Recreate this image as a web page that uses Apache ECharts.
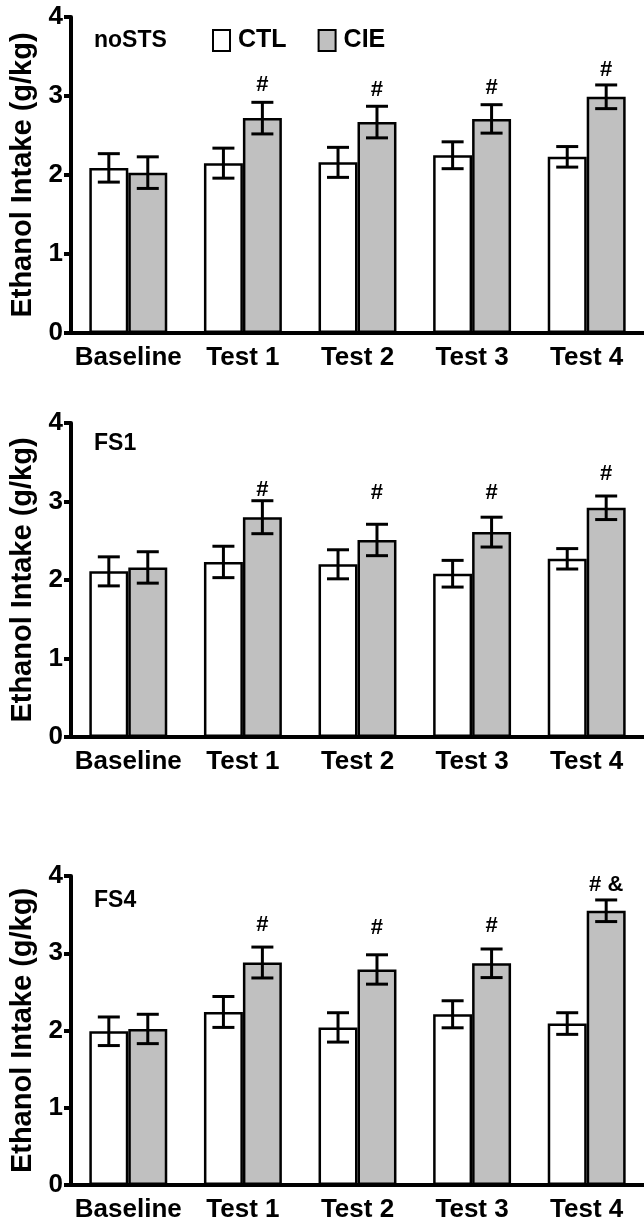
<!DOCTYPE html>
<html>
<head>
<meta charset="utf-8">
<script src="https://cdn.jsdelivr.net/npm/echarts@6/dist/echarts.min.js"></script>
<style>
html, body { margin: 0; padding: 0; background: #fff; }
#draw_area { width: 644px; height: 1223px; }
</style>
</head>
<body>
<div id="draw_area"></div>
<script>
"use strict";

//横轴分组和图例
var categories = ['Baseline', 'Test 1', 'Test 2', 'Test 3', 'Test 4'];
var groups = ['CTL', 'CIE'];
var panelNames = ['noSTS', 'FS1', 'FS4'];

//各组均值 (g/kg)
var noSTS_CTL = [2.09, 2.15, 2.16, 2.25, 2.23];
var noSTS_CIE = [2.03, 2.72, 2.67, 2.71, 2.99];
var FS1_CTL = [2.11, 2.23, 2.20, 2.08, 2.27];
var FS1_CIE = [2.16, 2.80, 2.51, 2.61, 2.92];
var FS4_CTL = [1.99, 2.24, 2.04, 2.21, 2.09];
var FS4_CIE = [2.02, 2.88, 2.79, 2.87, 3.55];

//标准误
var noSTS_CTL_se = [0.18, 0.19, 0.19, 0.17, 0.13];
var noSTS_CIE_se = [0.20, 0.20, 0.20, 0.18, 0.15];
var FS1_CTL_se = [0.185, 0.20, 0.185, 0.17, 0.13];
var FS1_CIE_se = [0.20, 0.21, 0.20, 0.19, 0.15];
var FS4_CTL_se = [0.185, 0.20, 0.19, 0.175, 0.14];
var FS4_CIE_se = [0.19, 0.20, 0.19, 0.185, 0.14];

//显著性标记，以及标记所在的数值高度
var noSTS_mark = ['', '#', '#', '#', '#'];
var FS1_mark = ['', '#', '#', '#', '#'];
var FS4_mark = ['', '#', '#', '#', '# &'];
var noSTS_markAt = [null, 3.14, 3.08, 3.10, 3.33];
var FS1_markAt = [null, 3.15, 3.11, 3.11, 3.35];
var FS4_markAt = [null, 3.37, 3.33, 3.35, 3.88];

var FONT = '"Liberation Sans", Arial, sans-serif';
var BAR_RATIO = 0.34;

var panels = [
    { ctl: noSTS_CTL, cie: noSTS_CIE, ctlSe: noSTS_CTL_se, cieSe: noSTS_CIE_se, mark: noSTS_mark, markAt: noSTS_markAt },
    { ctl: FS1_CTL, cie: FS1_CIE, ctlSe: FS1_CTL_se, cieSe: FS1_CIE_se, mark: FS1_mark, markAt: FS1_markAt },
    { ctl: FS4_CTL, cie: FS4_CIE, ctlSe: FS4_CTL_se, cieSe: FS4_CIE_se, mark: FS4_mark, markAt: FS4_markAt }
];

//每块图的位置
var gridTop = [17, 423, 876];
var gridHeight = [316, 314, 312];
var gridWidth = [580, 580, 573];
var titleTop = [29, 432, 889];

//误差线: [类别序号, 均值, 标准误, 左右(-1 CTL, 1 CIE)]
function renderError(params, api) {
    var idx = api.value(0);
    var side = api.value(3);
    var band = api.size([1, 0])[0];
    var x = api.coord([idx, 0])[0] + side * band * BAR_RATIO / 2;
    var hi = api.coord([idx, api.value(1) + api.value(2)])[1];
    var lo = api.coord([idx, api.value(1) - api.value(2)])[1];
    var cap = 11;
    var style = { stroke: '#000', lineWidth: 3 };
    return {
        type: 'group',
        children: [
            { type: 'line', shape: { x1: x, y1: hi, x2: x, y2: lo }, style: style },
            { type: 'line', shape: { x1: x - cap, y1: hi, x2: x + cap, y2: hi }, style: style },
            { type: 'line', shape: { x1: x - cap, y1: lo, x2: x + cap, y2: lo }, style: style }
        ]
    };
}

//显著性标记画在 CIE 柱上方
function renderMark(params, api) {
    var idx = api.value(0);
    var band = api.size([1, 0])[0];
    var pt = api.coord([idx, api.value(1)]);
    return {
        type: 'text',
        x: pt[0] + band * BAR_RATIO / 2,
        y: pt[1],
        style: {
            text: api.value(2),
            fill: '#000',
            fontSize: 22,
            fontWeight: 'bold',
            fontFamily: FONT,
            align: 'center',
            verticalAlign: 'middle'
        }
    };
}

var option = {
    animation: false,
    backgroundColor: '#fff',
    title: [],
    legend: {
        data: groups,
        left: 212,
        top: 28,
        padding: 0,
        itemWidth: 17,
        itemHeight: 21,
        itemGap: 31,
        selectedMode: false,
        icon: 'rect',
        textStyle: { fontSize: 25, fontWeight: 'bold', color: '#000', fontFamily: FONT, padding: [0, 0, 0, 3] }
    },
    grid: [],
    xAxis: [],
    yAxis: [],
    series: []
};

panels.forEach(function (p, i) {
    option.title.push({
        text: panelNames[i],
        left: 94,
        top: titleTop[i],
        padding: 0,
        textStyle: { fontSize: 23, fontWeight: 'bold', color: '#000', fontFamily: FONT }
    });
    option.grid.push({ left: 71, top: gridTop[i], width: gridWidth[i], height: gridHeight[i] });
    option.xAxis.push({
        gridIndex: i,
        type: 'category',
        data: categories,
        axisLine: { lineStyle: { color: '#000', width: 4 } },
        axisTick: { show: false },
        axisLabel: { interval: 0, margin: 12, color: '#000', fontSize: 26, fontWeight: 'bold', fontFamily: FONT }
    });
    option.yAxis.push({
        gridIndex: i,
        type: 'value',
        min: 0,
        max: 4,
        interval: 1,
        name: 'Ethanol Intake (g/kg)',
        nameLocation: 'middle',
        nameGap: 29,
        nameTextStyle: { fontSize: 29, fontWeight: 'bold', color: '#000', fontFamily: FONT },
        axisLine: { show: true, lineStyle: { color: '#000', width: 4 } },
        axisTick: { show: true, length: 7, lineStyle: { color: '#000', width: 4 } },
        axisLabel: { margin: 8, color: '#000', fontSize: 26, fontWeight: 'bold', fontFamily: FONT },
        splitLine: { show: false }
    });

    var barStyle = { borderColor: '#000', borderWidth: 2.5 };
    option.series.push({
        name: 'CTL', type: 'bar', xAxisIndex: i, yAxisIndex: i,
        barWidth: (BAR_RATIO * 100) + '%', barGap: '0%',
        itemStyle: Object.assign({ color: '#fff' }, barStyle),
        data: p.ctl
    });
    option.series.push({
        name: 'CIE', type: 'bar', xAxisIndex: i, yAxisIndex: i,
        barWidth: (BAR_RATIO * 100) + '%', barGap: '0%',
        itemStyle: Object.assign({ color: '#c0c0c0' }, barStyle),
        data: p.cie
    });

    var errData = [];
    for (var k = 0; k < categories.length; k++) {
        errData.push([k, p.ctl[k], p.ctlSe[k], -1]);
        errData.push([k, p.cie[k], p.cieSe[k], 1]);
    }
    option.series.push({
        type: 'custom', xAxisIndex: i, yAxisIndex: i, z: 5,
        renderItem: renderError, data: errData, silent: true
    });

    var markData = [];
    for (var m = 0; m < categories.length; m++) {
        if (p.mark[m]) markData.push([m, p.markAt[m], p.mark[m]]);
    }
    option.series.push({
        type: 'custom', xAxisIndex: i, yAxisIndex: i, z: 5,
        dimensions: ['x', 'y', { name: 'text', type: 'ordinal' }],
        encode: { x: 0, y: 1 },
        renderItem: renderMark, data: markData, silent: true
    });
});

var chart_object = echarts.init(document.getElementById('draw_area'));
chart_object.setOption(option);
</script>
</body>
</html>
